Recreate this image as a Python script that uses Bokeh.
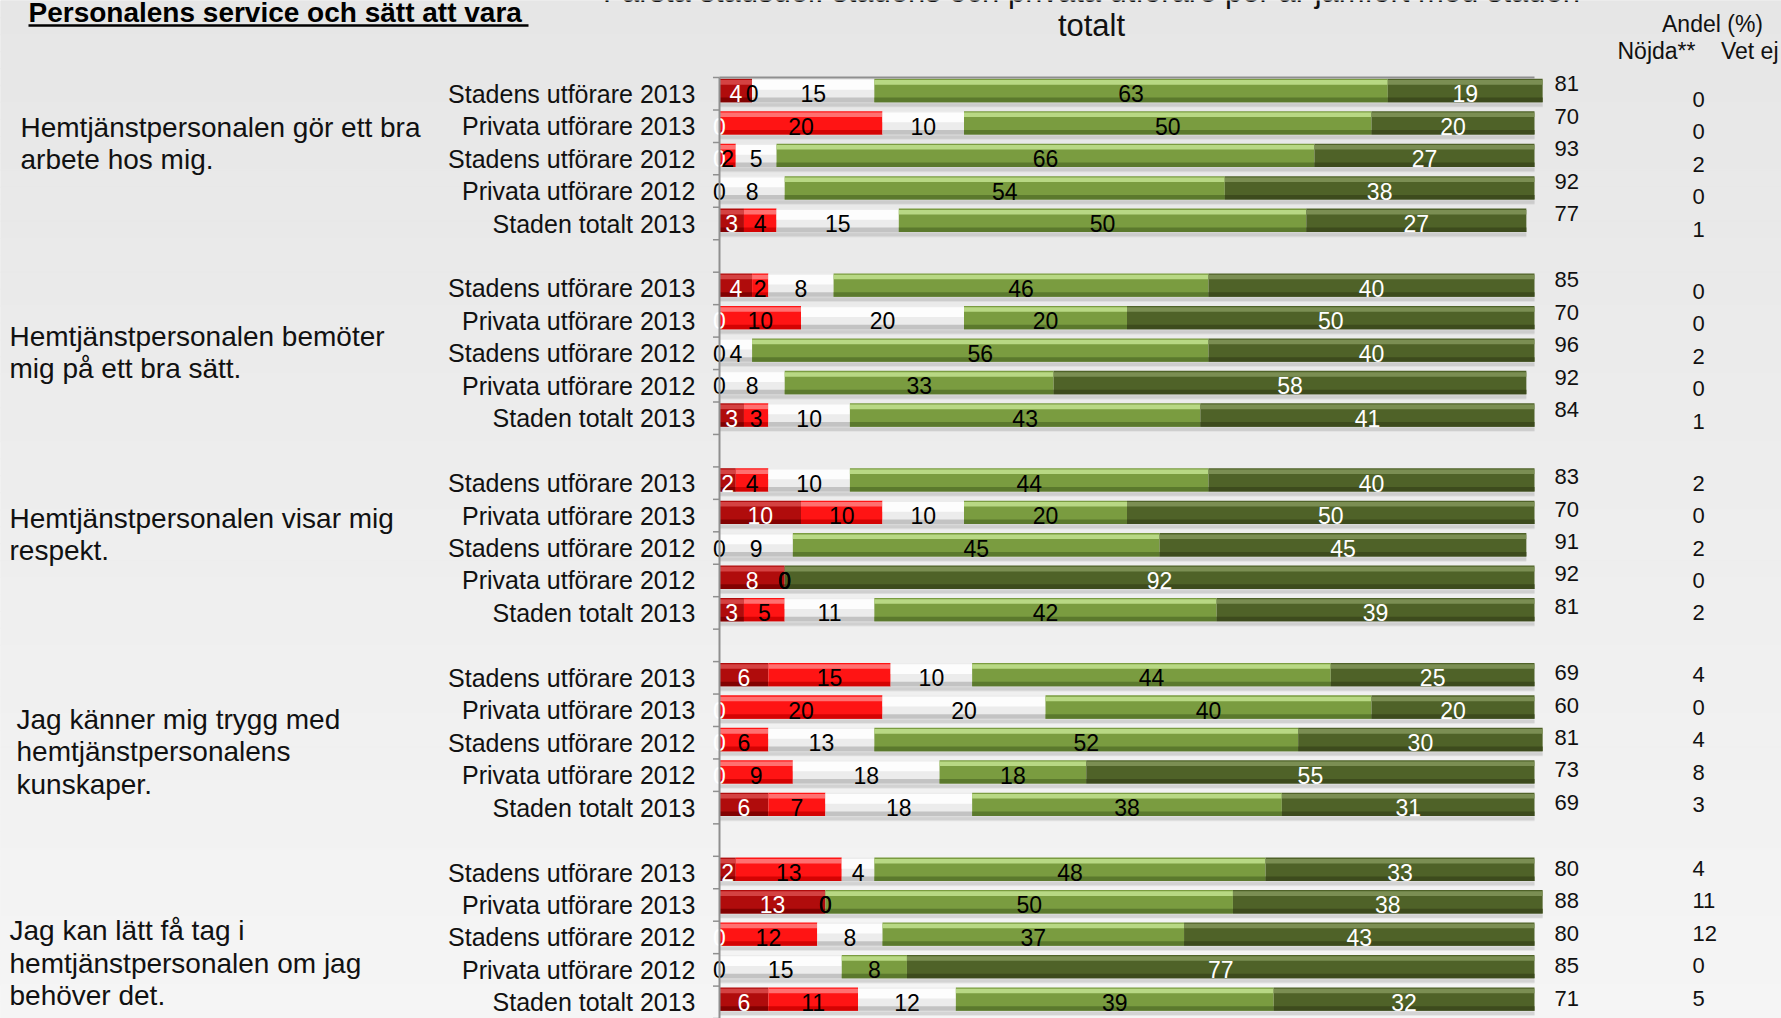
from bokeh.plotting import figure
from bokeh.models import Range1d, ColumnDataSource
from bokeh.embed import file_html
from bokeh.resources import INLINE
from bokeh.core.properties import value

# ---------------- data ----------------
section_title = "Personalens service och sätt att vara"
chart_title_1 = "Farsta stadsdel: stadens och privata utförare per år jämfört med staden"
chart_title_2 = "totalt"
header_andel = "Andel (%)"
header_nojda = "Nöjda**"
header_vetej = "Vet ej"

questions = [
    ["Hemtjänstpersonalen gör ett bra", "arbete hos mig."],
    ["Hemtjänstpersonalen bemöter", "mig på ett bra sätt."],
    ["Hemtjänstpersonalen visar mig", "respekt."],
    ["Jag känner mig trygg med", "hemtjänstpersonalens", "kunskaper."],
    ["Jag kan lätt få tag i", "hemtjänstpersonalen om jag", "behöver det."],
]
row_labels = ["Stadens utförare 2013", "Privata utförare 2013", "Stadens utförare 2012",
              "Privata utförare 2012", "Staden totalt 2013"]

# answer classes (per question, five rows each)
mycket_missnojd = [4, 0, 0, 0, 3,   4, 0, 0, 0, 3,   2, 10, 0, 8, 3,   6, 0, 0, 0, 6,    2, 13, 0, 0, 6]
missnojd        = [0, 20, 2, 0, 4,  2, 10, 0, 0, 3,  4, 10, 0, 0, 5,   15, 20, 6, 9, 7,  13, 0, 12, 0, 11]
varken          = [15, 10, 5, 8, 15, 8, 20, 4, 8, 10, 10, 10, 9, 0, 11, 10, 20, 13, 18, 18, 4, 0, 8, 15, 12]
nojd            = [63, 50, 66, 54, 50, 46, 20, 56, 33, 43, 44, 20, 45, 0, 42, 44, 40, 52, 18, 38, 48, 50, 37, 8, 39]
mycket_nojd     = [19, 20, 27, 38, 27, 40, 50, 40, 58, 41, 40, 50, 45, 92, 39, 25, 20, 30, 55, 31, 33, 38, 43, 77, 32]
andel_nojda     = [81, 70, 93, 92, 77, 85, 70, 96, 92, 84, 83, 70, 91, 92, 81, 69, 60, 81, 73, 69, 80, 88, 80, 85, 71]
vet_ej          = [0, 0, 2, 0, 1,    0, 0, 2, 0, 1,   2, 0, 2, 0, 2,    4, 0, 4, 8, 3,    4, 11, 12, 0, 5]

# ---------------- layout / style ----------------
W, H = 1781, 1018
X0, X_PX = 719.0, 8.15     # canvas px of value 0, px per percent
Y0, Y_PX = 77.0, 32.45     # canvas px of top boundary, px per slot
FONT = value("Liberation Sans")

def fx(px):
    return (px - X0) / X_PX

def fy(py):
    return 0.5 - (py - Y0) / Y_PX

p = figure(width=W, height=H, output_backend="svg", toolbar_location=None,
           x_axis_location=None, y_axis_location=None, min_border=0,
           x_range=Range1d(-X0 / X_PX, (W - X0) / X_PX),
           y_range=Range1d(0.5 - (H - Y0) / Y_PX, 0.5 + Y0 / Y_PX))
p.grid.visible = False
p.outline_line_color = None
p.background_fill_color = "#eeeeee"
p.border_fill_color = "#e7e7e7"

# background gradient bands
y_top, y_bot = p.y_range.end, p.y_range.start
n_band = 60
c_top, c_bot = (0xe6, 0xe6, 0xe6), (0xf5, 0xf5, 0xf5)
b_top, b_bot, b_col = [], [], []
for i in range(n_band):
    t = i / (n_band - 1)
    b_top.append(y_top + (y_bot - y_top) * i / n_band)
    b_bot.append(y_top + (y_bot - y_top) * (i + 1) / n_band - 0.01)
    c = tuple(int(round(a + (b - a) * t)) for a, b in zip(c_top, c_bot))
    b_col.append("#%02x%02x%02x" % c)
p.quad(left=p.x_range.start, right=p.x_range.end, top=b_top, bottom=b_bot,
       fill_color=b_col, line_color=b_col)

# row positions: 5 rows per question plus one empty slot
n_q = len(questions)
row_y = []
for g in range(n_q):
    for r in range(len(row_labels)):
        row_y.append(-(g * 6 + r))
BAR_Y = [y + 0.1 for y in row_y]
BAR_H = 0.72

series = [mycket_missnojd, missnojd, varken, nojd, mycket_nojd]
styles = [  # body, top highlight, bottom shade, label colour
    ("#b00c0c", "#d84848", "#7a0000", "white"),
    ("#ff1414", "#ff7a7a", "#cc0000", "black"),
    ("#ececec", "#ffffff", "#bcbcbc", "black"),
    ("#7a9c40", "#bfdf8c", "#56732a", "black"),
    ("#4f6228", "#7f9458", "#39481b", "white"),
]

lefts = []
acc = [0.0] * len(row_y)
for s in series:
    lefts.append(list(acc))
    acc = [a + v for a, v in zip(acc, s)]

# shadows
p.hbar(y=[y - BAR_H / 2 - 0.05 for y in BAR_Y], height=0.16, left=0, right=acc,
       fill_color="#8c8c8c", fill_alpha=0.22, line_color=None)
p.hbar(y=[y - BAR_H / 2 - 0.10 for y in BAR_Y], height=0.12, left=0, right=acc,
       fill_color="#9a9a9a", fill_alpha=0.15, line_color=None)

for s, lf, (body, hi, lo, lab) in zip(series, lefts, styles):
    rt = [a + v for a, v in zip(lf, s)]
    src = ColumnDataSource(dict(y=BAR_Y, left=lf, right=rt))
    p.hbar(y="y", height=BAR_H, left="left", right="right", source=src,
           fill_color=body, line_color=None)
    hi_h = 0.30 if body == "#ececec" else 0.14
    p.hbar(y=[y + BAR_H / 2 - hi_h / 2 - 0.04 for y in BAR_Y], height=hi_h,
           left=lf, right=rt, fill_color=hi, line_color=None, fill_alpha=0.9)
    p.hbar(y=[y - BAR_H / 2 + 0.07 for y in BAR_Y], height=0.14,
           left=lf, right=rt, fill_color=lo, line_color=None, fill_alpha=0.85)

# value labels in the segments
for s, lf, (body, hi, lo, lab) in zip(series, lefts, styles):
    p.text(x=[a + v / 2 for a, v in zip(lf, s)], y=row_y, text=[str(v) for v in s],
           text_font=FONT, text_font_size="23px", text_color=lab,
           text_align="center", text_baseline="middle")

# axis line, top line and ticks
n_slots = n_q * 6
p.segment(x0=0, y0=0.5, x1=0, y1=y_bot, line_color="#8f8f8f", line_width=2)
p.segment(x0=0, y0=0.5, x1=100, y1=0.5, line_color="#8f8f8f", line_width=2)
tick_y = [0.5 - k for k in range(n_slots)]
p.segment(x0=-0.8, y0=tick_y, x1=0, y1=tick_y, line_color="#8f8f8f", line_width=1.5)

# row labels
p.text(x=fx(695), y=row_y, text=row_labels * n_q, text_font=FONT, text_font_size="25px",
       text_color="#111111", text_align="right", text_baseline="middle")

# question labels
q_x = [20, 9, 9, 16, 9]
q_first = [1.03, 1.48, 1.09, 1.28, 1.79]
qx, qy, qt = [], [], []
for g, lines in enumerate(questions):
    for i, line in enumerate(lines):
        qx.append(fx(q_x[g]))
        qy.append(-(g * 6) - q_first[g] - i * 1.0)
        qt.append(line)
p.text(x=qx, y=qy, text=qt, text_font=FONT, text_font_size="28px", text_color="#111111",
       text_align="left", text_baseline="middle")

# right columns
nojd_off = [0.31, 0.26, 0.2, 0.16, 0.13]
vet_off = [-0.17, -0.09, 0.0, 0.09, 0.13]
ny = [row_y[i] + nojd_off[i // 5] for i in range(len(row_y))]
vy = [row_y[i] + vet_off[i // 5] for i in range(len(row_y))]
p.text(x=fx(1554), y=ny, text=[str(v) for v in andel_nojda], text_font=FONT,
       text_font_size="22px", text_color="#111111", text_align="left", text_baseline="middle")
p.text(x=fx(1692), y=vy, text=[str(v) for v in vet_ej], text_font=FONT,
       text_font_size="22px", text_color="#111111", text_align="left", text_baseline="middle")

# headers
p.text(x=[fx(1712), fx(1656)], y=[fy(23), fy(50)], text=[header_andel, header_nojda],
       text_font=FONT, text_font_size="23px", text_color="#111111",
       text_align="center", text_baseline="middle")
p.text(x=[fx(1778)], y=[fy(50)], text=[header_vetej], text_font=FONT,
       text_font_size="23px", text_color="#111111", text_align="right", text_baseline="middle")

# chart title (first line partly cut off at the top like the original)
p.text(x=[fx(1091), fx(1091)], y=[fy(-9), fy(25)], text=[chart_title_1, chart_title_2],
       text_font=FONT, text_font_size="31px", text_color="#111111",
       text_align="center", text_baseline="middle")

# section title, bold and underlined
p.text(x=[fx(28)], y=[fy(12)], text=[section_title], text_font=FONT,
       text_font_size="28px", text_font_style="bold", text_color="black",
       text_align="left", text_baseline="middle")
p.segment(x0=fx(28), y0=fy(25), x1=fx(528), y1=fy(25), line_color="black", line_width=2.5)

open("out.html", "w").write(file_html(p, INLINE))
